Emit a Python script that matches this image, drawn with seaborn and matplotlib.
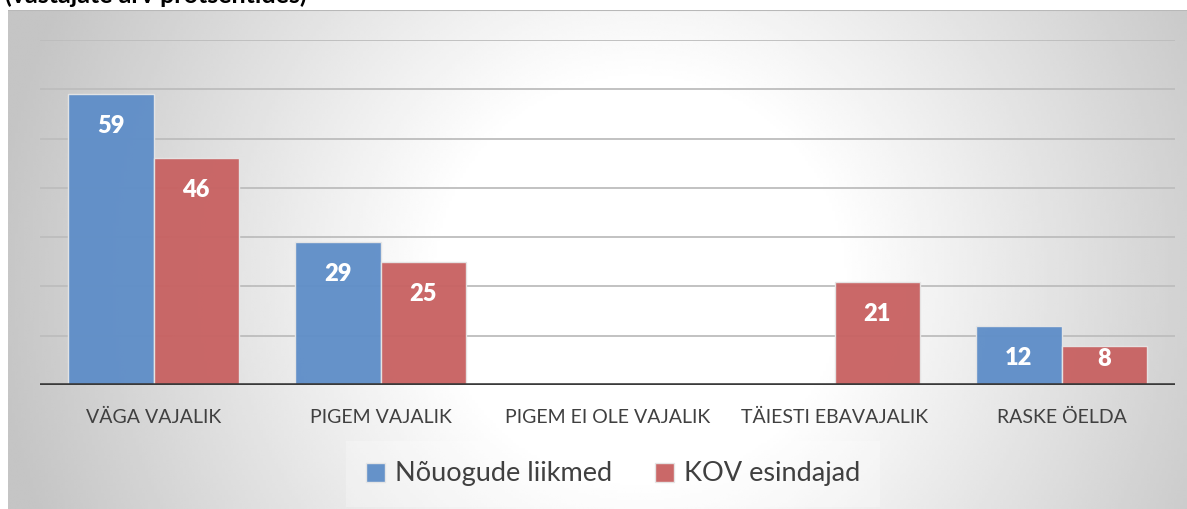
import numpy as np
import pandas as pd
import matplotlib.pyplot as plt
import seaborn as sns

# Data
categories = ['VÄGA VAJALIK', 'PIGEM VAJALIK', 'PIGEM EI OLE VAJALIK', 'TÄIESTI EBAVAJALIK', 'RASKE ÖELDA']
series = ['Nõuogude liikmed', 'KOV esindajad']
noukogude_liikmed = [59, 29, np.nan, np.nan, 12]
kov_esindajad = [46, 25, np.nan, 21, 8]
colors = ['#5f8ec8', '#c86262']

df = pd.DataFrame({
    'kategooria': categories * 2,
    'grupp': [series[0]] * len(categories) + [series[1]] * len(categories),
    'vaartus': noukogude_liikmed + kov_esindajad,
})

sns.set_style('white')
plt.rcParams['font.family'] = ['Lato', 'DejaVu Sans']

W, H = 1187, 509
fig = plt.figure(figsize=(W / 100, H / 100), dpi=100)

# gradient background of the chart box
bg = fig.add_axes([8 / W, 0, 1 - 8 / W, 1 - 10 / H])
xx, yy = np.meshgrid(np.linspace(8, W, 400), np.linspace(10, H, 200))
d = np.sqrt((xx - 640) ** 2 + (yy - 280) ** 2)
shade = 1 - 0.23 * np.clip((d - 200) / 450, 0, 1)
bg.imshow(shade, cmap='gray', vmin=0, vmax=1, aspect='auto',
          extent=[0, 1, 0, 1], origin='upper', interpolation='bilinear')
bg.axhline(1, color='#b8b8b8', lw=1.5)
bg.set_xlim(0, 1)
bg.set_ylim(0, 1)
bg.axis('off')

# partially cut title at the very top
fig.text(5 / W, 1 - 3 / H, '(vastajate arv protsentides)', fontsize=18,
         fontweight='bold', color='black', va='baseline', ha='left')

ax = fig.add_axes([40 / W, 1 - 385 / H, 1135 / W, 345 / H])
ax.patch.set_alpha(0)

sns.barplot(data=df, x='kategooria', y='vaartus', hue='grupp', order=categories,
            hue_order=series, palette=colors, width=0.75, alpha=0.96,
            saturation=1, edgecolor='#e6e6e6', linewidth=1.0, ax=ax, zorder=2)

ax.set_ylim(0, 70)
ax.set_xlim(-0.5, 4.5)
ax.set_yticks(range(10, 71, 10))
ax.yaxis.grid(True, color='#bdbdbd', lw=1.3)
ax.set_axisbelow(True)
ax.tick_params(axis='y', left=False, labelleft=False)
ax.tick_params(axis='x', length=0, pad=17, labelsize=14, labelcolor='#404040')
ax.set_xlabel('')
ax.set_ylabel('')
for s in ax.spines.values():
    s.set_visible(False)
ax.axhline(0, color='#3a3a3a', lw=2.6, zorder=3)

# value labels inside bars
for cont in ax.containers:
    for bar in cont:
        h = bar.get_height()
        if np.isnan(h) or h == 0:
            continue
        ax.text(bar.get_x() + bar.get_width() / 2, max(h - 6.5, 5.3), f'{h:.0f}',
                ha='center', va='center', color='white', fontsize=17,
                fontweight='heavy', zorder=4)

leg = ax.legend(loc='center', bbox_to_anchor=(613 / W, 1 - 474 / H),
                bbox_transform=fig.transFigure, ncol=2, frameon=True,
                fontsize=19.5, handlelength=0.7, handleheight=0.7,
                handletextpad=0.35, columnspacing=1.6, borderpad=0.45)
leg.get_frame().set_facecolor('white')
leg.get_frame().set_alpha(0.25)
leg.get_frame().set_edgecolor('none')
leg.get_frame().set_boxstyle('square')
for t in leg.get_texts():
    t.set_color('#404040')

fig.savefig('out.png', dpi=100)
